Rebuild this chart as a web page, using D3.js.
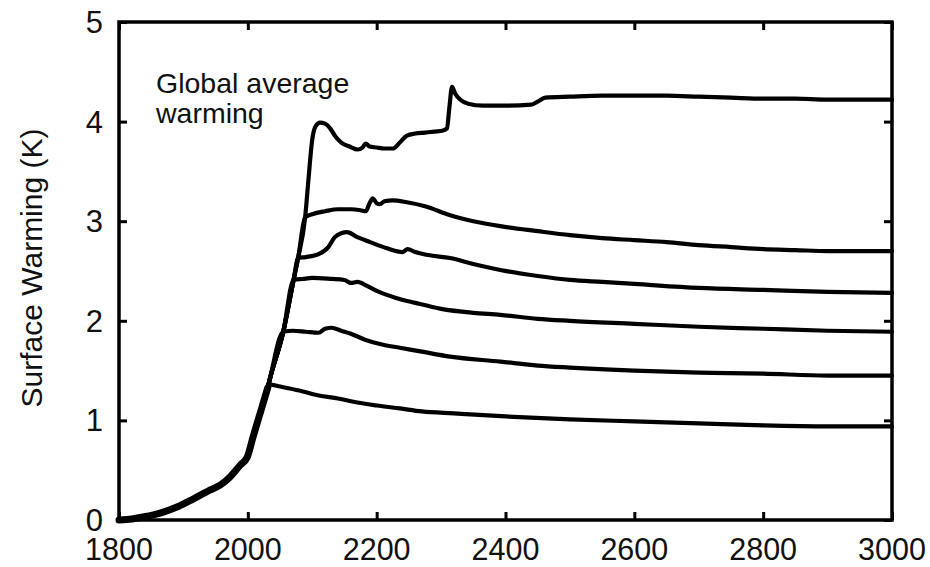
<!DOCTYPE html>
<html>
<head>
<meta charset="utf-8">
<script src="https://cdn.jsdelivr.net/npm/d3@7"></script>
<style>
  html, body { margin: 0; padding: 0; background: #fff; }
  svg { display: block; }
  text { font-family: "Liberation Sans", Arial, Helvetica, sans-serif; fill: #111; }
</style>
</head>
<body>
<svg id="chart" width="930" height="567"></svg>
<script>
// Shared historical rise (years, K)
const riseYears  = [1800, 1820, 1837, 1864, 1890, 1915, 1941, 1957, 1972, 1988, 1999, 2008, 2019, 2031, 2034, 2055, 2071, 2078, 2089, 2094, 2100, 2105];
const riseValues = [0, 0.01, 0.03, 0.07, 0.13, 0.21, 0.30, 0.35, 0.43, 0.55, 0.63, 0.83, 1.07, 1.33, 1.41, 1.89, 2.41, 2.63, 3.04, 3.41, 3.82, 3.95];

// Scenario branches after emissions stop
const globalYears  = [2112, 2120, 2128, 2136, 2145, 2158, 2171, 2178, 2183, 2189, 2200, 2212, 2225, 2236, 2247, 2260, 2275, 2290, 2303, 2309, 2313, 2317, 2322, 2330, 2342, 2365, 2400, 2440, 2450, 2462, 2500, 2550, 2600, 2650, 2700, 2750, 2800, 2850, 2900, 2950, 3000];
const globalValues = [3.99, 3.98, 3.93, 3.85, 3.79, 3.75, 3.72, 3.74, 3.78, 3.75, 3.74, 3.73, 3.73, 3.79, 3.86, 3.88, 3.89, 3.90, 3.91, 3.93, 4.15, 4.35, 4.28, 4.22, 4.18, 4.16, 4.16, 4.17, 4.20, 4.24, 4.25, 4.26, 4.26, 4.26, 4.25, 4.24, 4.23, 4.23, 4.22, 4.22, 4.22];

const s30Years  = [2089, 2100, 2120, 2140, 2160, 2175, 2183, 2189, 2194, 2200, 2205, 2212, 2225, 2247, 2275, 2314, 2350, 2392, 2450, 2500, 2550, 2600, 2650, 2700, 2750, 2800, 2850, 2900, 2950, 3000];
const s30Values = [3.04, 3.07, 3.10, 3.12, 3.12, 3.11, 3.10, 3.18, 3.23, 3.18, 3.17, 3.20, 3.21, 3.19, 3.15, 3.06, 3.00, 2.95, 2.90, 2.86, 2.83, 2.81, 2.79, 2.76, 2.74, 2.72, 2.71, 2.70, 2.70, 2.70];

const s26Years  = [2078, 2090, 2110, 2125, 2135, 2145, 2154, 2170, 2190, 2215, 2240, 2248, 2260, 2280, 2314, 2350, 2392, 2450, 2500, 2550, 2600, 2700, 2800, 2900, 3000];
const s26Values = [2.63, 2.64, 2.67, 2.74, 2.84, 2.88, 2.89, 2.84, 2.79, 2.73, 2.69, 2.72, 2.69, 2.66, 2.63, 2.57, 2.51, 2.45, 2.41, 2.39, 2.37, 2.33, 2.31, 2.29, 2.28];

const s24Years  = [2071, 2085, 2100, 2130, 2150, 2160, 2170, 2185, 2200, 2230, 2260, 2300, 2350, 2392, 2450, 2500, 2600, 2700, 2800, 2900, 3000];
const s24Values = [2.41, 2.42, 2.43, 2.42, 2.41, 2.38, 2.39, 2.35, 2.30, 2.23, 2.18, 2.12, 2.08, 2.06, 2.02, 2.00, 1.97, 1.94, 1.92, 1.90, 1.89];

const s19Years  = [2055, 2070, 2090, 2110, 2120, 2130, 2145, 2160, 2182, 2210, 2236, 2270, 2314, 2392, 2450, 2500, 2600, 2700, 2800, 2900, 3000];
const s19Values = [1.89, 1.90, 1.89, 1.88, 1.92, 1.93, 1.90, 1.87, 1.81, 1.76, 1.73, 1.69, 1.64, 1.59, 1.55, 1.53, 1.50, 1.48, 1.47, 1.45, 1.45];

const s13Years  = [2034, 2050, 2080, 2110, 2140, 2170, 2200, 2236, 2270, 2320, 2400, 2500, 2600, 2700, 2800, 2900, 3000];
const s13Values = [1.36, 1.34, 1.30, 1.25, 1.22, 1.18, 1.15, 1.12, 1.09, 1.07, 1.04, 1.01, 0.99, 0.97, 0.95, 0.94, 0.94];

const xTicks = [1800, 2000, 2200, 2400, 2600, 2800, 3000];
const yTicks = [0, 1, 2, 3, 4, 5];

const svg = d3.select("#chart");
const plotLeft = 119, plotRight = 892, plotTop = 22, plotBottom = 520;

const x = d3.scaleLinear().domain([1800, 3000]).range([plotLeft, plotRight]);
const y = d3.scaleLinear().domain([0, 5]).range([plotBottom, plotTop]);

const zip = (ys, vs) => ys.map((yr, i) => [yr, vs[i]]);
// each scenario follows the shared rise up to its own branch year
const withRise = (ys, vs) => zip(riseYears, riseValues).filter(d => d[0] < ys[0]).concat(zip(ys, vs));

const series = [
  withRise(globalYears, globalValues),
  withRise(s30Years, s30Values),
  withRise(s26Years, s26Values),
  withRise(s24Years, s24Values),
  withRise(s19Years, s19Values),
  withRise(s13Years, s13Values)
];

const line = d3.line().x(d => x(d[0])).y(d => y(d[1])).curve(d3.curveMonotoneX);

const g = svg.append("g");

// thick overlapping stretch of the historical rise
g.append("path")
  .datum(zip(riseYears, riseValues).filter(d => d[0] <= 2031))
  .attr("d", line)
  .attr("fill", "none")
  .attr("stroke", "#000")
  .attr("stroke-width", 7)
  .attr("stroke-linecap", "round")
  .attr("stroke-linejoin", "round");

g.selectAll("path.scenario")
  .data(series)
  .join("path")
  .attr("class", "scenario")
  .attr("d", line)
  .attr("fill", "none")
  .attr("stroke", "#000")
  .attr("stroke-width", 4.2)
  .attr("stroke-linejoin", "round")
  .attr("stroke-linecap", "round");

// frame with inward ticks on all four sides
const tickLen = 8;
const axB = d3.axisBottom(x).tickValues(xTicks).tickSize(-tickLen).tickFormat("");
const axT = d3.axisTop(x).tickValues(xTicks).tickSize(-tickLen).tickFormat("");
const axL = d3.axisLeft(y).tickValues(yTicks).tickSize(-tickLen).tickFormat("");
const axR = d3.axisRight(y).tickValues(yTicks).tickSize(-tickLen).tickFormat("");

function styleAxis(sel) {
  sel.select(".domain").remove();
  sel.selectAll(".tick line").attr("stroke", "#000").attr("stroke-width", 3);
}
svg.append("g").attr("transform", `translate(0,${plotBottom})`).call(axB).call(styleAxis);
svg.append("g").attr("transform", `translate(0,${plotTop})`).call(axT).call(styleAxis);
svg.append("g").attr("transform", `translate(${plotLeft},0)`).call(axL).call(styleAxis);
svg.append("g").attr("transform", `translate(${plotRight},0)`).call(axR).call(styleAxis);

svg.append("rect")
  .attr("x", plotLeft).attr("y", plotTop)
  .attr("width", plotRight - plotLeft).attr("height", plotBottom - plotTop)
  .attr("fill", "none").attr("stroke", "#000").attr("stroke-width", 3.5);

// tick labels
svg.append("g").selectAll("text")
  .data(xTicks).join("text")
  .attr("x", d => x(d)).attr("y", 560)
  .attr("text-anchor", "middle")
  .style("font-size", "30.5px")
  .text(d => d);

svg.append("g").selectAll("text")
  .data(yTicks).join("text")
  .attr("x", 103).attr("y", d => y(d) + 11)
  .attr("text-anchor", "end")
  .style("font-size", "31px")
  .text(d => d);

// axis title
svg.append("text")
  .attr("transform", `translate(42,${(plotTop + plotBottom) / 2 - 3}) rotate(-90)`)
  .attr("text-anchor", "middle")
  .style("font-size", "30px")
  .text("Surface Warming (K)");

// annotation
const note = svg.append("text").style("font-size", "28.5px");
note.append("tspan").attr("x", 156).attr("y", 93).text("Global average");
note.append("tspan").attr("x", 156).attr("y", 123).text("warming");
</script>
</body>
</html>
